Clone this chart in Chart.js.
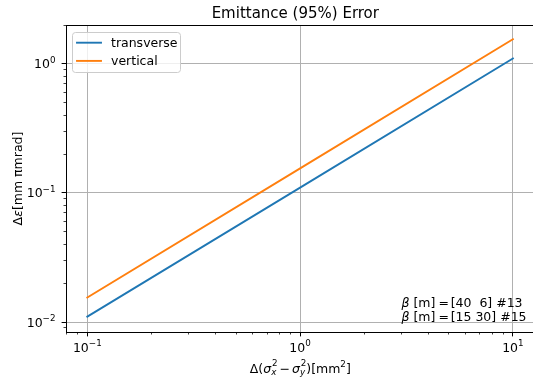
<!DOCTYPE html>
<html>
<head>
<meta charset="utf-8">
<script src="https://cdn.jsdelivr.net/npm/chart.js@4"></script>
<style>
  html, body { margin: 0; padding: 0; background: #fff; }
  canvas { display: block; }
</style>
</head>
<body>
<canvas id="c" width="533" height="380"></canvas>
<script>
// Emittance error versus beam-size difference (log-log)
const deltaSigma = [0.1, 1, 10];            // Δ(σx² − σy²) [mm²]
const transverse = [0.011, 0.11, 1.1];      // Δε [mm πmrad]
const vertical   = [0.0155, 0.155, 1.55];   // Δε [mm πmrad]
const seriesLabels = ['transverse', 'vertical'];
const seriesColors = ['#1f77b4', '#ff7f0e'];

// major ticks and their exponents (labels read 10^e)
const xMajorTicks = [0.1, 1, 10];
const xTickExp    = ['\u22121', '0', '1'];
const yMajorTicks = [0.01, 0.1, 1];
const yTickExp    = ['\u22122', '\u22121', '0'];

const titleText = 'Emittance (95%) Error';
const betaNotes = ['[40  6] #13', '[15 30] #15'];

// axis limits
const X_MIN = 0.0794, X_MAX = 12.43;
const Y_MIN = 0.00837, Y_MAX = 2.0;

const FAMILY = '"DejaVu Sans", sans-serif';
const BASE = 12.5, SMALL = 8.75;
const font = (size, it) => (it ? 'italic ' : '') + size + 'px ' + FAMILY;

// log ticks: majors plus 2..9 minors per decade, restricted to the axis range
function logTicks(min, max, majors) {
  const out = [];
  for (let d = Math.floor(Math.log10(min)); d <= Math.ceil(Math.log10(max)); d++) {
    for (let m = 1; m <= 9; m++) {
      const v = m * Math.pow(10, d);
      if (v >= min * 0.9999 && v <= max * 1.0001) {
        out.push({ value: v, major: majors.some(t => Math.abs(t - v) / t < 1e-6) });
      }
    }
  }
  return out;
}
function majorIndex(v, majors) {
  return majors.findIndex(t => Math.abs(t - v) / t < 1e-6);
}

function alignPx(p, w) { const h = w / 2; return Math.round(p - h) + h; }

// rich text: plain parts, spaces, and stacked sup/sub scripts
function partWidth(ctx, p) {
  if (p.space !== undefined) return p.space;
  if (p.sup !== undefined || p.sub !== undefined) {
    ctx.font = font(SMALL, false);
    const a = p.sup ? ctx.measureText(p.sup).width + (p.supDx || 0) : 0;
    ctx.font = font(SMALL, true);
    const b = p.sub ? ctx.measureText(p.sub).width : 0;
    return Math.max(a, b);
  }
  ctx.font = font(p.s || BASE, p.it);
  return ctx.measureText(p.t).width;
}
function drawRich(ctx, parts, x, y, align) {
  const w = parts.reduce((s, p) => s + partWidth(ctx, p), 0);
  let cx = align === 'center' ? x - w / 2 : align === 'right' ? x - w : x;
  ctx.textAlign = 'left';
  ctx.textBaseline = 'alphabetic';
  for (const p of parts) {
    if (p.space === undefined) {
      if (p.sup !== undefined || p.sub !== undefined) {
        if (p.sup) { ctx.font = font(SMALL, false); ctx.fillText(p.sup, cx + (p.supDx || 0), y - (p.raise || 7)); }
        if (p.sub) { ctx.font = font(SMALL, true); ctx.fillText(p.sub, cx, y + 2); }
      } else {
        ctx.font = font(p.s || BASE, p.it);
        ctx.fillText(p.t, cx, y);
      }
    }
    cx += partWidth(ctx, p);
  }
}
const powerLabel = e => [{ t: '10' }, { sup: e, raise: 5.2 }];

const decorations = {
  id: 'decorations',
  afterDraw(chart) {
    const ctx = chart.ctx;
    const area = chart.chartArea;
    const xs = chart.scales.x, ys = chart.scales.y;
    ctx.save();

    // tick marks (outward), major and minor, with labels on majors
    ctx.strokeStyle = '#000';
    ctx.fillStyle = '#000';
    xs.ticks.forEach(t => {
      const len = t.major ? 4.4 : 2.5;
      const raw = xs.getPixelForValue(t.value);
      const px = alignPx(raw, 1);
      ctx.lineWidth = t.major ? 1 : 0.75;
      ctx.beginPath(); ctx.moveTo(px, area.bottom); ctx.lineTo(px, area.bottom + len); ctx.stroke();
      const i = majorIndex(t.value, xMajorTicks);
      if (i >= 0) drawRich(ctx, powerLabel(xTickExp[i]), raw, area.bottom + 19.5, 'center');
    });
    ys.ticks.forEach(t => {
      const len = t.major ? 4.4 : 2.5;
      const raw = ys.getPixelForValue(t.value);
      const py = alignPx(raw, 1);
      ctx.lineWidth = t.major ? 1 : 0.75;
      ctx.beginPath(); ctx.moveTo(area.left, py); ctx.lineTo(area.left - len, py); ctx.stroke();
      const i = majorIndex(t.value, yMajorTicks);
      if (i >= 0) drawRich(ctx, powerLabel(yTickExp[i]), area.left - 10.5, raw + 4.5, 'right');
    });

    // top spine
    ctx.lineWidth = 1;
    const ty = alignPx(area.top, 1);
    ctx.beginPath(); ctx.moveTo(area.left, ty); ctx.lineTo(area.right, ty); ctx.stroke();

    // legend box, upper left
    const lx = 72.5, ly = 32.5, lw = 108, lh = 40, r = 3;
    ctx.beginPath();
    ctx.roundRect(lx, ly, lw, lh, r);
    ctx.fillStyle = 'rgba(255,255,255,0.8)';
    ctx.fill();
    ctx.strokeStyle = '#cccccc';
    ctx.lineWidth = 1;
    ctx.stroke();
    const rowY = [42.7, 60.9];
    chart.data.datasets.forEach((ds, i) => {
      ctx.strokeStyle = ds.borderColor;
      ctx.lineWidth = 1.9;
      ctx.lineCap = 'square';
      ctx.beginPath(); ctx.moveTo(77, rowY[i]); ctx.lineTo(101, rowY[i]); ctx.stroke();
      ctx.fillStyle = '#000';
      ctx.font = font(BASE, false);
      ctx.textAlign = 'left';
      ctx.textBaseline = 'alphabetic';
      ctx.fillText(ds.label, 111, rowY[i] + 4.5);
    });

    ctx.fillStyle = '#000';

    // title
    ctx.font = font(15, false);
    ctx.textAlign = 'center';
    ctx.textBaseline = 'alphabetic';
    ctx.fillText(titleText, 295.3, 17.5);

    // x axis label
    drawRich(ctx, [
      { t: '\u0394(' }, { t: '\u03C3', it: true }, { sup: '2', sub: 'x', supDx: 0.8 },
      { space: 2 }, { t: '\u2212' }, { space: 2 },
      { t: '\u03C3', it: true }, { sup: '2', sub: 'y', supDx: 0.8 },
      { t: ')[mm' }, { sup: '2', raise: 5.8 }, { t: ']' }
    ], 300.3, 372.5, 'center');

    // y axis label, rotated
    ctx.save();
    ctx.translate(21.5, (area.top + area.bottom) / 2);
    ctx.rotate(-Math.PI / 2);
    drawRich(ctx, [
      { t: '\u0394' }, { t: '\u03B5', it: true }, { t: '[mm \u03C0mrad]' }
    ], 0, 0, 'center');
    ctx.restore();

    // beta-function notes, lower right
    const noteY = [306.5, 321];
    betaNotes.forEach((n, i) => {
      drawRich(ctx, [
        { t: '\u03B2', it: true }, { t: ' [m]' }, { space: 3.2 }, { t: '=' }, { space: 1.6 }, { t: n }
      ], 401.5, noteY[i], 'left');
    });

    ctx.restore();
  }
};

new Chart(document.getElementById('c'), {
  type: 'line',
  data: {
    datasets: [
      {
        label: seriesLabels[0],
        data: deltaSigma.map((x, i) => ({ x, y: transverse[i] })),
        borderColor: seriesColors[0]
      },
      {
        label: seriesLabels[1],
        data: deltaSigma.map((x, i) => ({ x, y: vertical[i] })),
        borderColor: seriesColors[1]
      }
    ]
  },
  options: {
    responsive: false,
    animation: false,
    devicePixelRatio: 1,
    layout: { padding: { top: 25, left: 0, right: 0, bottom: 0 } },
    plugins: {
      legend: { display: false },
      title: { display: false },
      tooltip: { enabled: false }
    },
    elements: {
      point: { radius: 0 },
      line: { tension: 0, borderWidth: 1.9, borderCapStyle: 'square', fill: false }
    },
    scales: {
      x: {
        type: 'logarithmic',
        position: 'bottom',
        min: X_MIN, max: X_MAX,
        bounds: 'data',
        afterBuildTicks: s => { s.ticks = logTicks(X_MIN, X_MAX, xMajorTicks); },
        afterFit: s => { s.height = 48; s.paddingLeft = 0; s.paddingRight = 0; },
        grid: {
          drawTicks: false,
          lineWidth: 1,
          color: c => (c.tick && c.tick.major ? '#b0b0b0' : 'rgba(0,0,0,0)')
        },
        border: { display: true, color: '#000', width: 1 },
        ticks: { display: false, autoSkip: false, maxRotation: 0, minRotation: 0 }
      },
      y: {
        type: 'logarithmic',
        position: 'left',
        min: Y_MIN, max: Y_MAX,
        bounds: 'data',
        afterBuildTicks: s => { s.ticks = logTicks(Y_MIN, Y_MAX, yMajorTicks); },
        afterFit: s => { s.width = 66; s.paddingTop = 0; s.paddingBottom = 0; },
        grid: {
          drawTicks: false,
          lineWidth: 1,
          color: c => (c.tick && c.tick.major ? '#b0b0b0' : 'rgba(0,0,0,0)')
        },
        border: { display: true, color: '#000', width: 1 },
        ticks: { display: false, autoSkip: false }
      }
    }
  },
  plugins: [decorations]
});
</script>
</body>
</html>
